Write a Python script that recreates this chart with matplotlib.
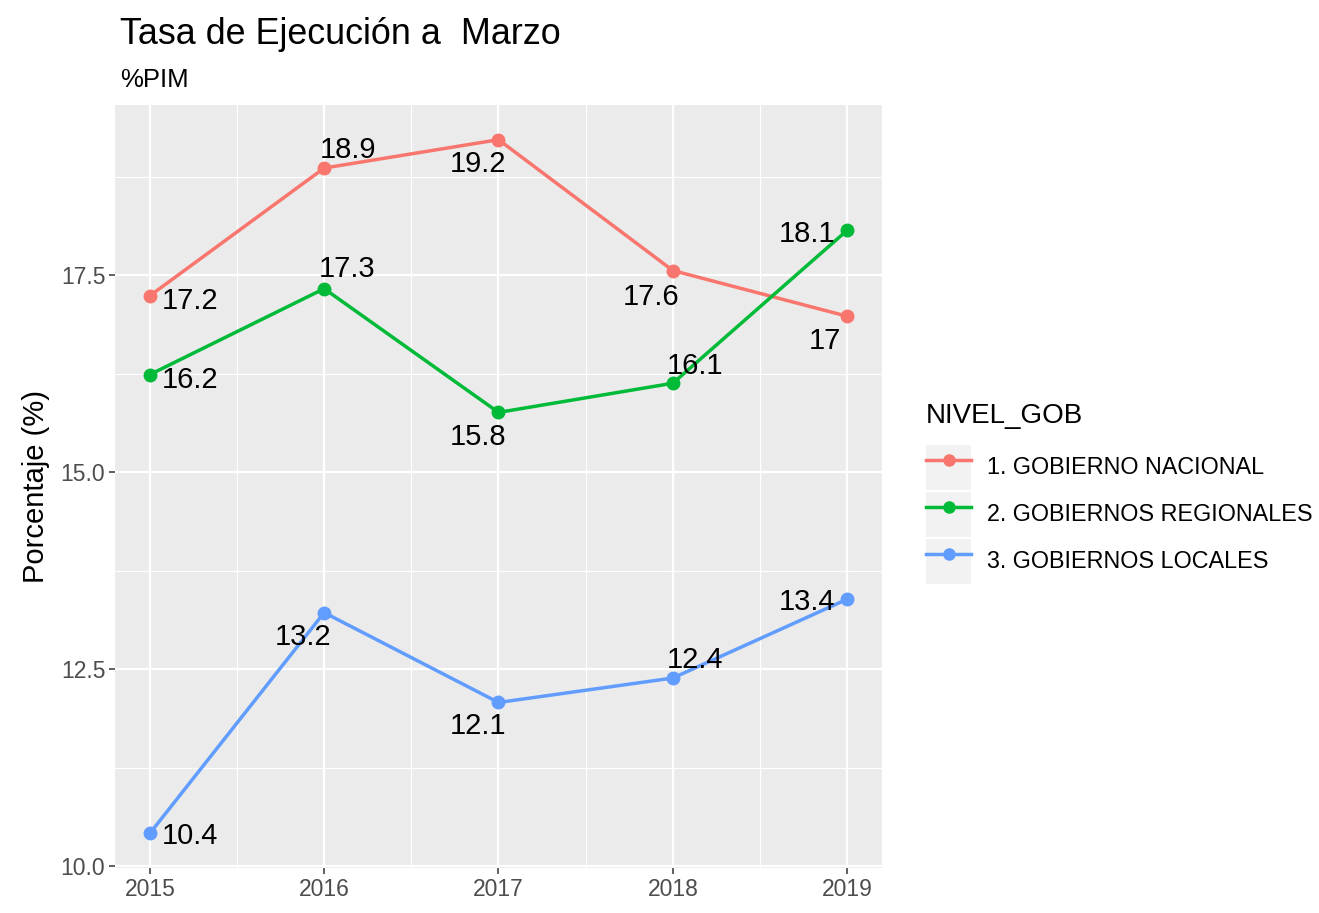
import matplotlib

matplotlib.use("Agg")
import matplotlib.pyplot as plt
from matplotlib.legend_handler import HandlerLine2D
from matplotlib.lines import Line2D
from matplotlib.patches import Rectangle
from matplotlib.ticker import FixedLocator, MultipleLocator

plt.rcParams["font.family"] = ["Liberation Sans", "DejaVu Sans"]

years = [2015, 2016, 2017, 2018, 2019]
series_names = ["1. GOBIERNO NACIONAL", "2. GOBIERNOS REGIONALES", "3. GOBIERNOS LOCALES"]
nacional = [17.24, 18.86, 19.22, 17.56, 16.98]
regionales = [16.24, 17.33, 15.76, 16.13, 18.07]
locales = [10.42, 13.22, 12.08, 12.39, 13.39]
y_ticks = [10.0, 12.5, 15.0, 17.5]

colors = ["#F8766D", "#00BA38", "#619CFF"]
# label offsets in pixels (dx, dy), mimicking the repelled text
label_offsets = [
    [(40, -5), (24, 18), (-20, -24), (-22, -26), (-22, -25)],
    [(40, -5), (23, 20), (-20, -25), (22, 17), (-40, -4)],
    [(40, -3), (-21, -24), (-20, -24), (22, 18), (-40, -3)],
]


class KeyHandler(HandlerLine2D):
    """Legend key with the grey ggplot-style background box."""

    def create_artists(self, legend, orig_handle, xdescent, ydescent, width, height, fontsize, trans):
        bg = Rectangle((-xdescent, -ydescent), width, height, facecolor="#F2F2F2",
                       edgecolor="none", transform=trans)
        arts = super().create_artists(legend, orig_handle, xdescent, ydescent, width, height, fontsize, trans)
        return [bg] + list(arts)


fig = plt.figure(figsize=(13.19, 9.13), dpi=100)
ax = fig.add_axes([115 / 1319, 1 - 868 / 913, (882 - 115) / 1319, (868 - 105) / 913])
ax.set_facecolor("#EBEBEB")
for side in ax.spines.values():
    side.set_visible(False)

handles = []
for vals, name, color, offs in zip([nacional, regionales, locales], series_names, colors, label_offsets):
    ax.plot(years, vals, color=color, linewidth=2.5, marker="o", markersize=9, zorder=3)
    for x, y, (dx, dy) in zip(years, vals, offs):
        ax.annotate(f"{round(y, 1):g}", (x, y), xytext=(dx, dy), textcoords="offset pixels",
                    ha="center", va="center", fontsize=21, color="black", zorder=4)
    handles.append(Line2D([], [], color=color, linewidth=2.5, marker="o", markersize=8, label=name))

ax.margins(0.05)
ax.xaxis.set_major_locator(FixedLocator(years))
ax.xaxis.set_minor_locator(MultipleLocator(0.5))
ax.yaxis.set_major_locator(FixedLocator(y_ticks))
ax.yaxis.set_minor_locator(MultipleLocator(1.25))
ax.set_xticklabels([str(y) for y in years])
ax.set_yticklabels([f"{t:.1f}" for t in y_ticks])
ax.grid(which="major", color="white", linewidth=1.6)
ax.grid(which="minor", color="white", linewidth=0.8)
ax.set_axisbelow(True)
ax.tick_params(which="major", length=4, width=1.1, color="#333333", labelsize=16.5,
               labelcolor="#4D4D4D", pad=3)
ax.tick_params(which="minor", length=0)

ax.set_ylabel("Porcentaje (%)", fontsize=21, labelpad=8)

fig.text(120 / 1319, 1 - 44 / 913, "Tasa de Ejecución a  Marzo", fontsize=25.8, va="baseline")
fig.text(120 / 1319, 1 - 87 / 913, "%PIM", fontsize=18.5, va="baseline")

leg = fig.legend(handles=handles, loc="upper left", bbox_to_anchor=(926 / 1319, 1 - 403 / 913),
                 frameon=False, title="NIVEL_GOB", title_fontsize=20, fontsize=16.8,
                 handlelength=1.93, handleheight=2.6, handletextpad=0.7, labelspacing=0.08,
                 borderpad=0, borderaxespad=0, alignment="left",
                 handler_map={Line2D: KeyHandler()})
# extra room between the legend title and the keys, as in ggplot
leg._legend_box.sep = 0.08 * 16.8 + 10

fig.savefig("out.png", dpi=100, facecolor="white")
